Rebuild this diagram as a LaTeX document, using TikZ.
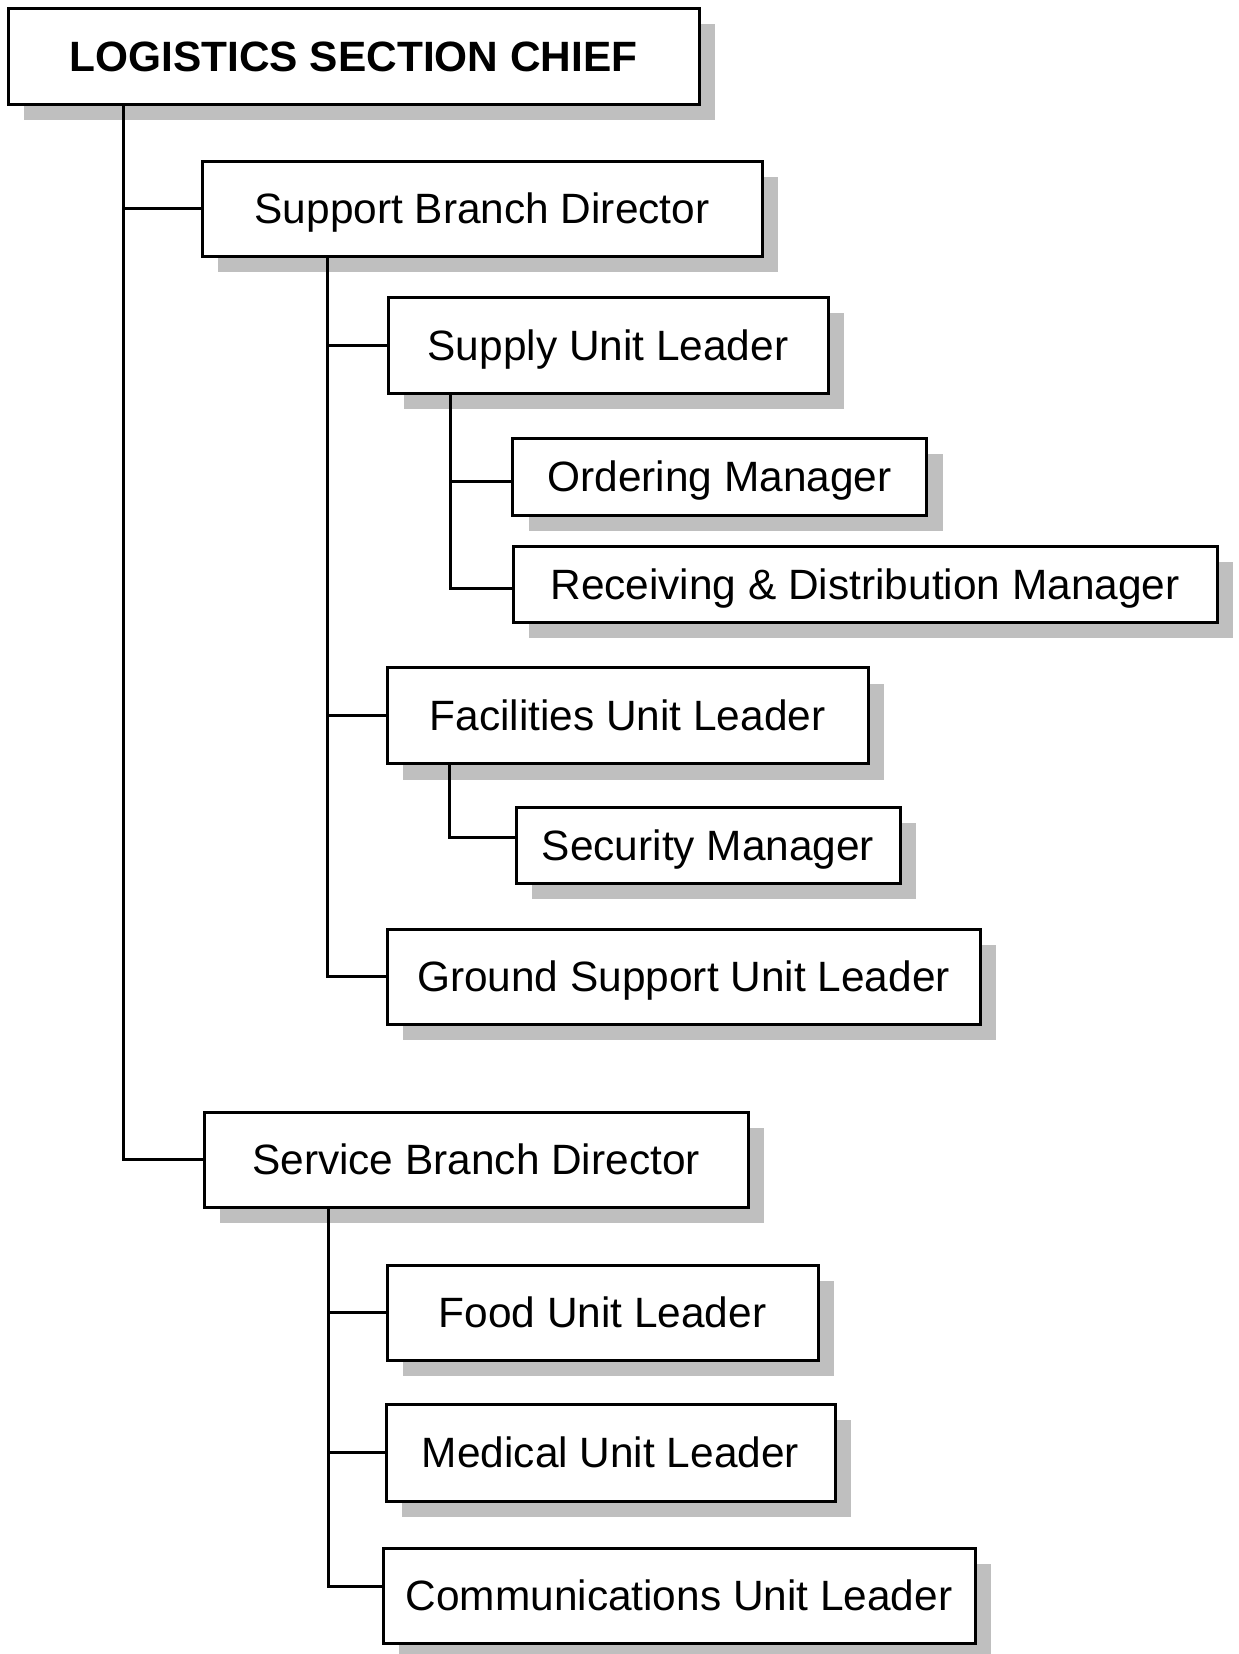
\documentclass[tikz,border=0pt]{standalone}
\usepackage{fontspec}
\setmainfont{Liberation Sans}
\usetikzlibrary{shadows}

\begin{document}
\begin{tikzpicture}[x=0.5pt, y=-0.5pt,
	unit/.style={draw=black, line width=1.5pt, fill=white, inner sep=0pt,
		text height=15.2pt, text depth=0pt, font=\fontsize{21.2}{25}\selectfont,
		drop shadow={shadow xshift=8pt, shadow yshift=-8pt, fill=black!25, opacity=1}},
	link/.style={line width=1.5pt}]
	\useasboundingbox (0,0) rectangle (1238,1654);

	% boxes
	\node[unit, minimum width=345.5pt, minimum height=48pt] (chief) at (353.5,56) {\textbf{LOGISTICS SECTION CHIEF}};
	\node[unit, minimum width=280pt, minimum height=47.5pt] (sbd) at (482,208.5) {Support Branch Director};
	\node[unit, minimum width=220pt, minimum height=48pt] (supply) at (608,345) {Supply Unit Leader};
	\node[unit, minimum width=207pt, minimum height=38.5pt] (order) at (719.5,476.5) {Ordering Manager};
	\node[unit, minimum width=352pt, minimum height=38pt] (recv) at (865,584) {Receiving \& Distribution Manager};
	\node[unit, minimum width=240.5pt, minimum height=48pt] (fac) at (627.5,715.5) {Facilities Unit Leader};
	\node[unit, minimum width=192pt, minimum height=38pt] (sec) at (708,845) {Security Manager};
	\node[unit, minimum width=296.5pt, minimum height=47.5pt] (gsu) at (683.5,976.5) {Ground Support Unit Leader};
	\node[unit, minimum width=272pt, minimum height=47.5pt] (svc) at (476,1159.5) {Service Branch Director};
	\node[unit, minimum width=215.5pt, minimum height=47.5pt] (food) at (602.5,1312.5) {Food Unit Leader};
	\node[unit, minimum width=224.5pt, minimum height=48.5pt] (med) at (610.5,1452.5) {Medical Unit Leader};
	\node[unit, minimum width=296pt, minimum height=47.5pt] (comm) at (679,1595.5) {Communications Unit Leader};

	% lines
	\draw[link] ([xshift=58.5pt]chief.south west) |- (sbd.west);
	\draw[link] ([xshift=58.5pt]chief.south west) |- (svc.west);

	\draw[link] ([xshift=63.5pt]sbd.south west) |- (supply.west);
	\draw[link] ([xshift=63.5pt]sbd.south west) |- (fac.west);
	\draw[link] ([xshift=63.5pt]sbd.south west) |- (gsu.west);

	\draw[link] ([xshift=32pt]supply.south west) |- ([yshift=-2.25pt]order.west);
	\draw[link] ([xshift=32pt]supply.south west) |- ([yshift=-2pt]recv.west);

	\draw[link] ([xshift=32pt]fac.south west) |- ([yshift=4pt]sec.west);

	\draw[link] ([xshift=63pt]svc.south west) |- (food.west);
	\draw[link] ([xshift=63pt]svc.south west) |- (med.west);
	\draw[link] ([xshift=63pt]svc.south west) |- ([yshift=4.75pt]comm.west);

\end{tikzpicture}
\end{document}
